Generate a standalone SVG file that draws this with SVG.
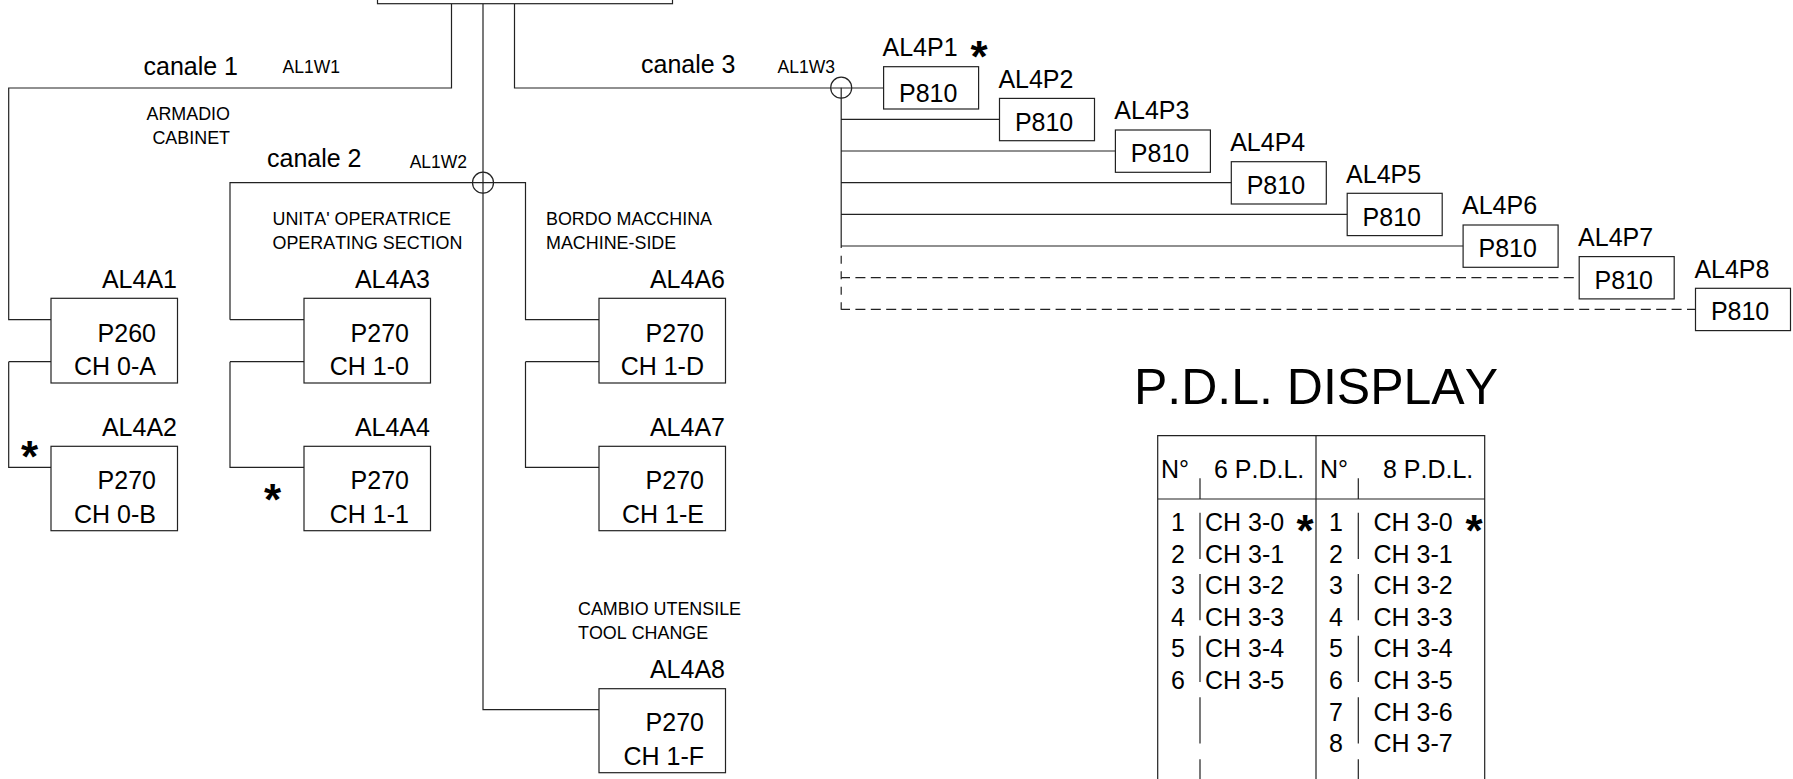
<svg xmlns="http://www.w3.org/2000/svg" width="1793" height="779" viewBox="0 0 1793 779">
<style>
text{font-family:"Liberation Sans",Arial,sans-serif;fill:#000;font-kerning:none}
.l{font-size:25px}
.s{font-size:17.5px}
.m{font-size:17.9px}
.e{text-anchor:end}
.t{font-size:50px}
.st{font-size:44px;font-weight:bold;text-anchor:middle}
rect,.w{fill:none;stroke:#222;stroke-width:1.2}
.d{stroke-dasharray:10 5.4;stroke-dashoffset:1.2}
.v{stroke-dasharray:8 7.5}
</style>
<rect width="1793" height="779" style="fill:#fff;stroke:none"/>
<g id="connectors">
<path class="w" d="M451.5 4V88H8.7V319.7H51M8.7 361.7H51M8.7 361.7V467.3H51"/>
<path class="w" d="M483 4V709.7H599"/>
<path class="w" d="M514.5 4V88H883.6"/>
<path class="w" d="M230 319.7V182.7H525.5V319.7H599M230 319.7H304M230 361.7H304M230 361.7V467.3H304M525.5 361.7H599M525.5 361.7V467.3H599"/>
<circle class="w" cx="483" cy="182.7" r="10.5"/>
<circle class="w" cx="841.2" cy="87.7" r="10.5"/>
<path class="w" d="M841.2 87.7V248M841.2 119.3H999.5M841.2 151H1115.4M841.2 182.7H1231.3M841.2 214.3H1347.2M841.2 246H1463.1"/>
<path class="w v" d="M841.2 255.7V309.7"/>
<path class="w d" d="M841.2 277.7H1574M841.2 309.3H1695.5"/>
</g>
<g id="top"><rect x="377.5" y="-5" width="295" height="8.7"/></g>
<g id="AL4A1"><rect x="51" y="298.3" width="126.5" height="84.7"/><text class="l e" x="177" y="287.7">AL4A1</text><text class="l e" x="156" y="341.5">P260</text><text class="l e" x="156" y="375">CH 0-A</text></g>
<g id="AL4A2"><rect x="51" y="446.3" width="126.5" height="84.4"/><text class="l e" x="177" y="435.7">AL4A2</text><text class="l e" x="156" y="489.3">P270</text><text class="l e" x="156" y="522.7">CH 0-B</text></g>
<g id="AL4A3"><rect x="304" y="298.3" width="126.5" height="84.7"/><text class="l e" x="430" y="287.7">AL4A3</text><text class="l e" x="409" y="341.5">P270</text><text class="l e" x="409" y="375">CH 1-0</text></g>
<g id="AL4A4"><rect x="304" y="446.3" width="126.5" height="84.4"/><text class="l e" x="430" y="435.7">AL4A4</text><text class="l e" x="409" y="489.3">P270</text><text class="l e" x="409" y="522.7">CH 1-1</text></g>
<g id="AL4A6"><rect x="599" y="298.3" width="126.5" height="84.7"/><text class="l e" x="725" y="287.7">AL4A6</text><text class="l e" x="704" y="341.5">P270</text><text class="l e" x="704" y="375">CH 1-D</text></g>
<g id="AL4A7"><rect x="599" y="446.3" width="126.5" height="84.4"/><text class="l e" x="725" y="435.7">AL4A7</text><text class="l e" x="704" y="489.3">P270</text><text class="l e" x="704" y="522.7">CH 1-E</text></g>
<g id="AL4A8"><rect x="599" y="688.7" width="126.5" height="84"/><text class="l e" x="725" y="677.7">AL4A8</text><text class="l e" x="704" y="730.7">P270</text><text class="l e" x="704" y="765">CH 1-F</text></g>
<g id="AL4P1"><rect x="883.6" y="66.7" width="95" height="42.3"/><text class="l" x="882.5" y="56">AL4P1</text><text class="l" x="899" y="101.5">P810</text></g>
<g id="AL4P2"><rect x="999.5" y="98.4" width="95" height="42.3"/><text class="l" x="998.4" y="87.7">AL4P2</text><text class="l" x="1014.9" y="130.5">P810</text></g>
<g id="AL4P3"><rect x="1115.4" y="130" width="95" height="42.3"/><text class="l" x="1114.3" y="119.3">AL4P3</text><text class="l" x="1130.8" y="162.2">P810</text></g>
<g id="AL4P4"><rect x="1231.3" y="161.7" width="95" height="42.3"/><text class="l" x="1230.2" y="151">AL4P4</text><text class="l" x="1246.7" y="193.8">P810</text></g>
<g id="AL4P5"><rect x="1347.2" y="193.3" width="95" height="42.3"/><text class="l" x="1346.1" y="182.6">AL4P5</text><text class="l" x="1362.6" y="225.5">P810</text></g>
<g id="AL4P6"><rect x="1463.1" y="225" width="95" height="42.3"/><text class="l" x="1462" y="214.3">AL4P6</text><text class="l" x="1478.5" y="257.2">P810</text></g>
<g id="AL4P7"><rect x="1579.2" y="256.6" width="95" height="42.3"/><text class="l" x="1578.1" y="245.9">AL4P7</text><text class="l" x="1594.6" y="288.8">P810</text></g>
<g id="AL4P8"><rect x="1695.5" y="288.3" width="95" height="42.3"/><text class="l" x="1694.4" y="277.6">AL4P8</text><text class="l" x="1710.9" y="320.4">P810</text></g>
<g id="labels">
<text class="l" x="143.5" y="75">canale 1</text>
<text class="l" x="267" y="166.7">canale 2</text>
<text class="l" x="641" y="72.8">canale 3</text>
<text class="s" x="282.6" y="73">AL1W1</text>
<text class="s" x="409.7" y="167.7">AL1W2</text>
<text class="s" x="777.6" y="72.7">AL1W3</text>
<text class="m e" x="230" y="120">ARMADIO</text>
<text class="m e" x="230" y="144">CABINET</text>
<text class="m" x="272.5" y="225">UNITA' OPERATRICE</text>
<text class="m" x="272.5" y="249">OPERATING SECTION</text>
<text class="m" x="546" y="225">BORDO MACCHINA</text>
<text class="m" x="546" y="249">MACHINE-SIDE</text>
<text class="m" x="578" y="615">CAMBIO UTENSILE</text>
<text class="m" x="578" y="638.7">TOOL CHANGE</text>
<text class="st" x="979" y="72">*</text>
<text class="st" x="29.6" y="472">*</text>
<text class="st" x="272.5" y="515">*</text>
<text class="st" x="1305" y="545.5">*</text>
<text class="st" x="1474" y="545.5">*</text>
</g>
<g id="table">
<text class="t" x="1134" y="404">P.D.L. DISPLAY</text>
<path class="w" d="M1157.7 779V435.7H1484.7V779M1316 435.7V779M1157.7 499H1484.7"/>
<path class="w" d="M1200 478.3V499M1358.3 478.3V499M1200 512.7V559M1200 574V620.3M1200 635.7V682M1200 697.3V743.5M1200 759.3V779M1358.3 512.7V559M1358.3 574V620.3M1358.3 635.7V682M1358.3 697.3V743.5M1358.3 759.3V779"/>
<text class="l" x="1161" y="477.7">N°</text><text class="l" x="1214" y="477.7">6 P.D.L.</text>
<text class="l" x="1320" y="477.7">N°</text><text class="l" x="1383" y="477.7">8 P.D.L.</text>
<g id="rows">
<text class="l" x="1171" y="531">1</text><text class="l" x="1171" y="562.6">2</text><text class="l" x="1171" y="594.2">3</text><text class="l" x="1171" y="625.8">4</text><text class="l" x="1171" y="657.4">5</text><text class="l" x="1171" y="689">6</text>
<text class="l" x="1205" y="531">CH 3-0</text><text class="l" x="1205" y="562.6">CH 3-1</text><text class="l" x="1205" y="594.2">CH 3-2</text><text class="l" x="1205" y="625.8">CH 3-3</text><text class="l" x="1205" y="657.4">CH 3-4</text><text class="l" x="1205" y="689">CH 3-5</text>
<text class="l" x="1329" y="531">1</text><text class="l" x="1329" y="562.6">2</text><text class="l" x="1329" y="594.2">3</text><text class="l" x="1329" y="625.8">4</text><text class="l" x="1329" y="657.4">5</text><text class="l" x="1329" y="689">6</text><text class="l" x="1329" y="720.6">7</text><text class="l" x="1329" y="752.2">8</text>
<text class="l" x="1373.5" y="531">CH 3-0</text><text class="l" x="1373.5" y="562.6">CH 3-1</text><text class="l" x="1373.5" y="594.2">CH 3-2</text><text class="l" x="1373.5" y="625.8">CH 3-3</text><text class="l" x="1373.5" y="657.4">CH 3-4</text><text class="l" x="1373.5" y="689">CH 3-5</text><text class="l" x="1373.5" y="720.6">CH 3-6</text><text class="l" x="1373.5" y="752.2">CH 3-7</text>
</g>
</g>
</svg>
